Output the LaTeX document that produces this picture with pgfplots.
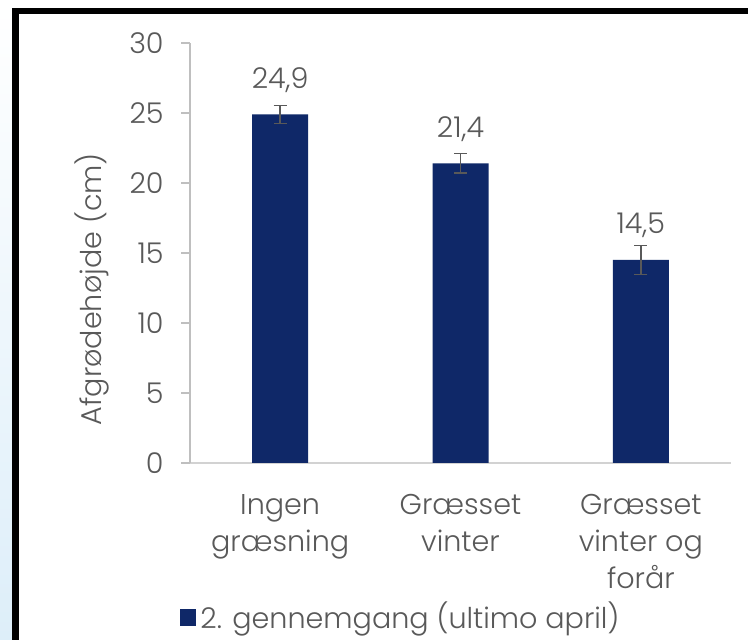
\documentclass[border=0pt]{standalone}
\usepackage{pgfplots}
\pgfplotsset{compat=1.18}
\usepackage{fontspec}
\setmainfont{Poppins}[UprightFont=* Light]
\definecolor{navy}{HTML}{0F2868}
\definecolor{txt}{HTML}{595959}
\definecolor{axgray}{HTML}{BFBFBF}
\definecolor{bgblue}{HTML}{DDEEF9}
\begin{document}
\begin{tikzpicture}
\useasboundingbox (0,0) rectangle (374pt,320pt);
\fill[white] (0,0) rectangle (374pt,320pt);
\shade[top color=white, bottom color=bgblue] (0,0) rectangle (6.5pt,320pt);
\draw[black, line width=3.25pt] (7.7pt,0) -- (7.7pt,314.5pt) -- (374pt,314.5pt);
\begin{axis}[
  at={(95pt,88.5pt)}, anchor=south west,
  scale only axis, width=270.5pt, height=210pt,
  xmin=-0.5, xmax=2.5, ymin=0, ymax=30,
  ytick={0,5,...,30},
  xtick={0,1,2},
  xticklabels={Ingen\\græsning, Græsset\\vinter, Græsset\\vinter og\\forår},
  axis x line=bottom, axis y line=left,
  x axis line style={-, draw=axgray!70!white, line width=0.75pt},
  y axis line style={-, draw=axgray, line width=0.75pt},
  tick align=outside, major tick length=4.5pt,
  xtick style={draw=none},
  ytick style={draw=axgray, line width=0.75pt},
  /pgf/number format/assume math mode=true,
  tick label style={font=\fontsize{14.3}{18.5}\selectfont, text=txt},
  yticklabel style={anchor=east, inner sep=0pt, xshift=-8.5pt},
  xticklabel style={align=center, anchor=north, inner sep=0pt, yshift=-11pt},
  ylabel={Afgrødehøjde (cm)},
  ylabel style={at={(axis description cs:-0.181,0.414)}, anchor=center, font=\fontsize{14.3}{18}\selectfont, text=txt},
  ybar, bar width=28pt,
  nodes near coords={\pgfmathprintnumber[fixed,fixed zerofill,precision=1,use comma]{\pgfplotspointmeta}},
  nodes near coords style={anchor=base, yshift=13pt, font=\fontsize{14.3}{18}\selectfont, text=txt, inner sep=0pt},
  legend style={draw=none, fill=none, at={(axis description cs:-0.0185,-0.367)}, anchor=west, inner sep=0pt, font=\fontsize{14.3}{18}\selectfont, text=txt},
  legend image code/.code={\fill[navy] (0pt,-4.25pt) rectangle (8pt,4.25pt);},
]
\addplot[fill=navy, draw=none,
  error bars/.cd, y dir=both, y explicit,
  error bar style={draw=txt, line width=0.75pt},
  error mark options={rotate=90, mark size=3.25pt, draw=txt, line width=0.75pt}]
  coordinates {(0,24.9) +- (0,0.65) (1,21.4) +- (0,0.7) (2,14.5) +- (0,1.05)};
\addlegendentry{2. gennemgang (ultimo april)}
\end{axis}
\end{tikzpicture}
\end{document}
